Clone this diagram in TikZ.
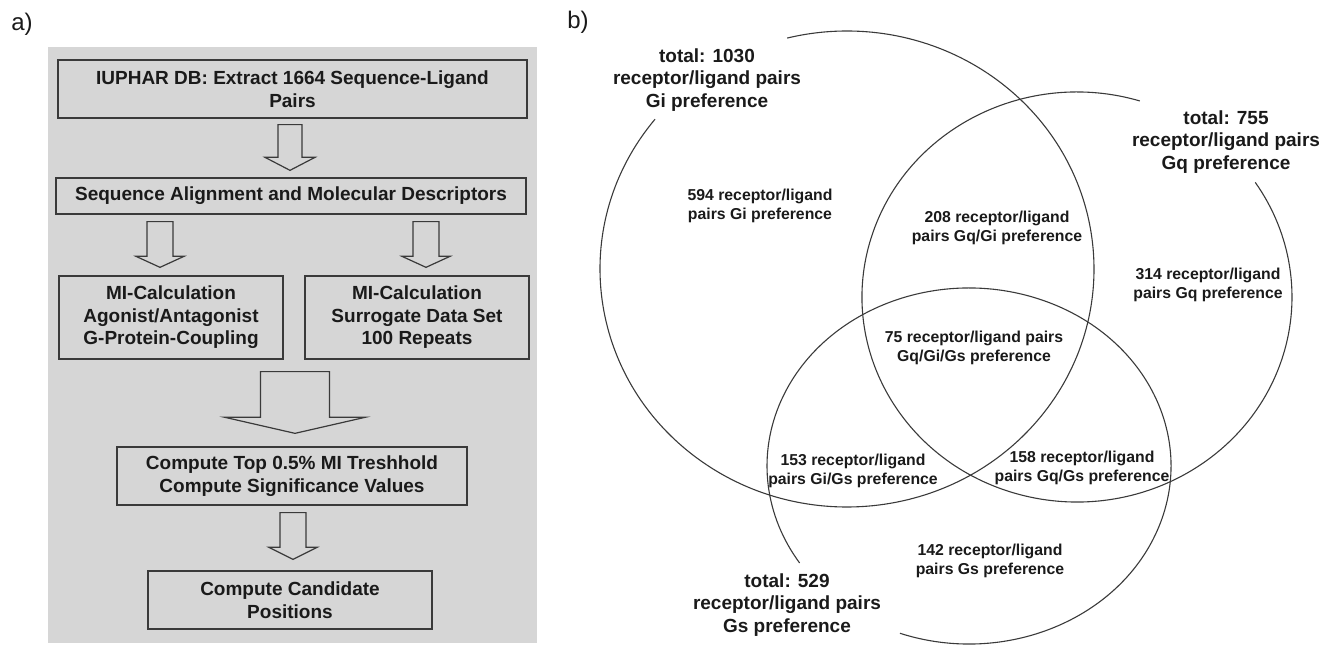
\documentclass[tikz,border=0pt]{standalone}
\usepackage{fontspec}
\setmainfont{Liberation Sans}
\usetikzlibrary{calc}
\definecolor{panel}{HTML}{D6D6D6}
\definecolor{edge}{HTML}{3A3A3A}
\definecolor{ink}{HTML}{1A1A1A}
\tikzset{
  box/.style={draw=edge, line width=1.3pt, fill=panel, text=ink,
    font=\bfseries\fontsize{19}{22.5}\selectfont, align=center, inner sep=0pt},
  blk/.style={draw=edge, line width=1.2pt, fill=panel, line join=miter},
  venn/.style={draw=edge, line width=1.1pt},
  biglab/.style={text=ink, font=\bfseries\fontsize{19}{22.5}\selectfont, align=center},
  smalllab/.style={text=ink, font=\bfseries\fontsize{15.8}{18.5}\selectfont, align=center},
  panellab/.style={text=ink, font=\fontsize{24}{28}\selectfont},
}
% #1 x centre, #2 source node, #3 target node, #4 gap below source, #5 gap above target,
% #6 half shaft width, #7 half head width, #8 head length
\newcommand\blockarr[8]{%
  \draw[blk] let \p1=(#2.south), \p2=(#3.north) in
    (#1-#6, \y1-#4) -- (#1+#6, \y1-#4) -- (#1+#6, \y2+#5+#8) -- (#1+#7, \y2+#5+#8)
    -- (#1, \y2+#5) -- (#1-#7, \y2+#5+#8) -- (#1-#6, \y2+#5+#8) -- cycle;}
\begin{document}
\begin{tikzpicture}[x=1pt,y=1pt]
\useasboundingbox (0,0) rectangle (1334,645);
% ---------- panel a ----------
\node[panellab] (la) at (22,621) {a)};
\fill[panel] (48,2) rectangle (537,598);
\node[box, minimum width=469pt, minimum height=58pt] (b1) at (292.5,556)
  {IUPHAR DB: Extract 1664 Sequence-Ligand\\Pairs};
\node[box, minimum width=470pt, minimum height=36pt] (b2) at (291,449)
  {Sequence Alignment and Molecular Descriptors};
\node[box, minimum width=224pt, minimum height=83pt] (b3) at (171,327.5)
  {MI-Calculation\\Agonist/Antagonist\\G-Protein-Coupling};
\node[box, minimum width=224pt, minimum height=83pt] (b4) at (417,327.5)
  {MI-Calculation\\Surrogate Data Set\\100 Repeats};
\node[box, minimum width=350pt, minimum height=58pt] (b5) at (292,169)
  {Compute Top 0.5\% MI Treshhold\\Compute Significance Values};
\node[box, minimum width=284pt, minimum height=58pt] (b6) at (290,45)
  {Compute Candidate\\Positions};
\blockarr{290}{b1}{b2}{6}{7}{12}{25}{13}
\blockarr{160}{b2}{b3}{7}{8}{13}{24}{11}
\blockarr{426}{b2}{b4}{7}{8}{13}{24}{11}
\blockarr{295}{b3}{b5}{12}{13}{34.5}{70}{16}
\blockarr{293}{b5}{b6}{7}{11}{13}{24}{12}
% ---------- panel b ----------
\node[panellab] (lb) at (578,623) {b)};
\coordinate (gi) at (847,376);
\coordinate (gq) at (1077,348);
\coordinate (gs) at (969,179);
\draw[venn] ($(gi)+(141:247 and 238)$) arc[start angle=141, end angle=464, x radius=247, y radius=238];
\draw[venn] ($(gq)+(73:215 and 205)$) arc[start angle=73, end angle=394, x radius=215, y radius=205];
\draw[venn] ($(gs)+(250:202 and 178)$) arc[start angle=250, end angle=573, x radius=202, y radius=178];
\node[biglab] (tgi) at (707,565) {total: 1030\\receptor/ligand pairs\\Gi preference};
\node[biglab] (tgq) at (1226,503) {total: 755\\receptor/ligand pairs\\Gq preference};
\node[biglab] (tgs) at (787,40) {total: 529\\receptor/ligand pairs\\Gs preference};
\node[smalllab] (n594) at (760,439) {594 receptor/ligand\\pairs Gi preference};
\node[smalllab] (n208) at (997,417) {208 receptor/ligand\\pairs Gq/Gi preference};
\node[smalllab] (n314) at (1208,360) {314 receptor/ligand\\pairs Gq preference};
\node[smalllab] (n75) at (974,297) {75 receptor/ligand pairs\\Gq/Gi/Gs preference};
\node[smalllab] (n153) at (853,174) {153 receptor/ligand\\pairs Gi/Gs preference};
\node[smalllab] (n158) at (1082,177) {158 receptor/ligand\\pairs Gq/Gs preference};
\node[smalllab] (n142) at (990,84) {142 receptor/ligand\\pairs Gs preference};
\end{tikzpicture}
\end{document}
